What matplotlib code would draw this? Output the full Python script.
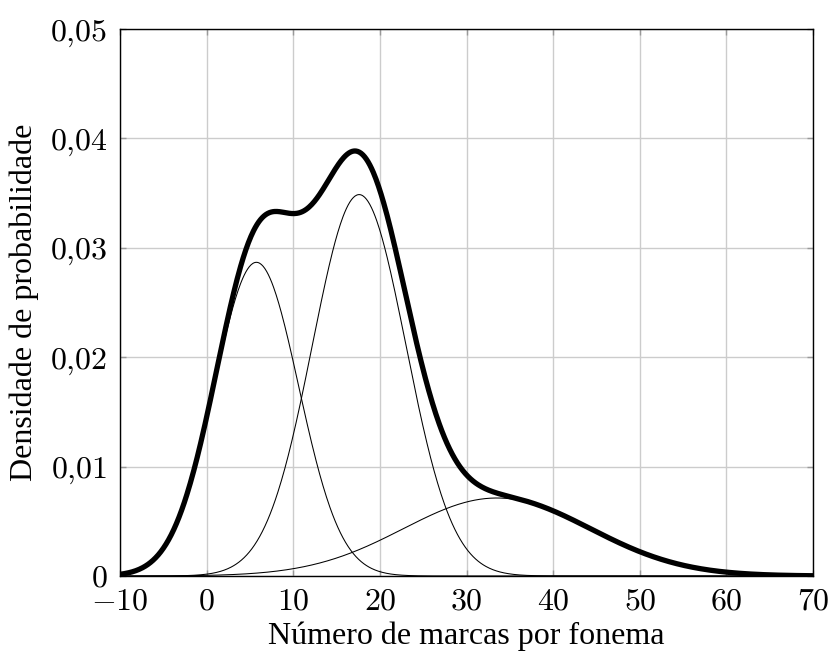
import numpy as np
import matplotlib
matplotlib.use('Agg')
import matplotlib.pyplot as plt

# Gaussian mixture components
weights = [0.350, 0.471, 0.193]
means = [5.74, 17.6, 33.5]
sigmas = [4.87, 5.39, 10.8]

x_ticks = [-10, 0, 10, 20, 30, 40, 50, 60, 70]
y_ticks = [0, 0.01, 0.02, 0.03, 0.04, 0.05]
y_tick_labels = ['0', '0,01', '0,02', '0,03', '0,04', '0,05']

plt.rcParams['mathtext.fontset'] = 'cm'
plt.rcParams['font.family'] = 'Liberation Serif'

fig = plt.figure(figsize=(8.33, 6.57), dpi=100)
ax = fig.add_axes([0.1441, 0.1233, 0.8320, 0.8326])

x = np.linspace(-10, 70, 800)
total = np.zeros_like(x)
for w, m, s in zip(weights, means, sigmas):
    comp = w / (s * np.sqrt(2 * np.pi)) * np.exp(-(x - m) ** 2 / (2 * s ** 2))
    total += comp
    ax.plot(x, comp, color='black', lw=0.75, zorder=3)
ax.plot(x, total, color='black', lw=3.8, zorder=4, solid_capstyle='butt')

ax.set_xlim(-10, 70)
ax.set_ylim(0, 0.05)
ax.set_xticks(x_ticks)
ax.set_xticklabels(['$%d$' % t if t >= 0 else '$-%d$' % -t for t in x_ticks])
ax.set_yticks(y_ticks)
ax.set_yticklabels(['$%s$' % l.replace(',', '{,}') for l in y_tick_labels])

ax.grid(True, color='#cccccc', lw=1.0)
ax.set_axisbelow(True)
ax.tick_params(direction='in', top=True, right=True, length=4, width=1,
               color='#999999', labelsize=23)
ax.tick_params(axis='x', pad=8)
ax.tick_params(axis='y', pad=9)
for sp in ax.spines.values():
    sp.set_color('black')
    sp.set_linewidth(1.0)

ax.set_xlabel('Número de marcas por fonema', fontsize=23, labelpad=4)
ax.set_ylabel('Densidade de probabilidade', fontsize=23, labelpad=8)

fig.savefig('out.png', dpi=100)
